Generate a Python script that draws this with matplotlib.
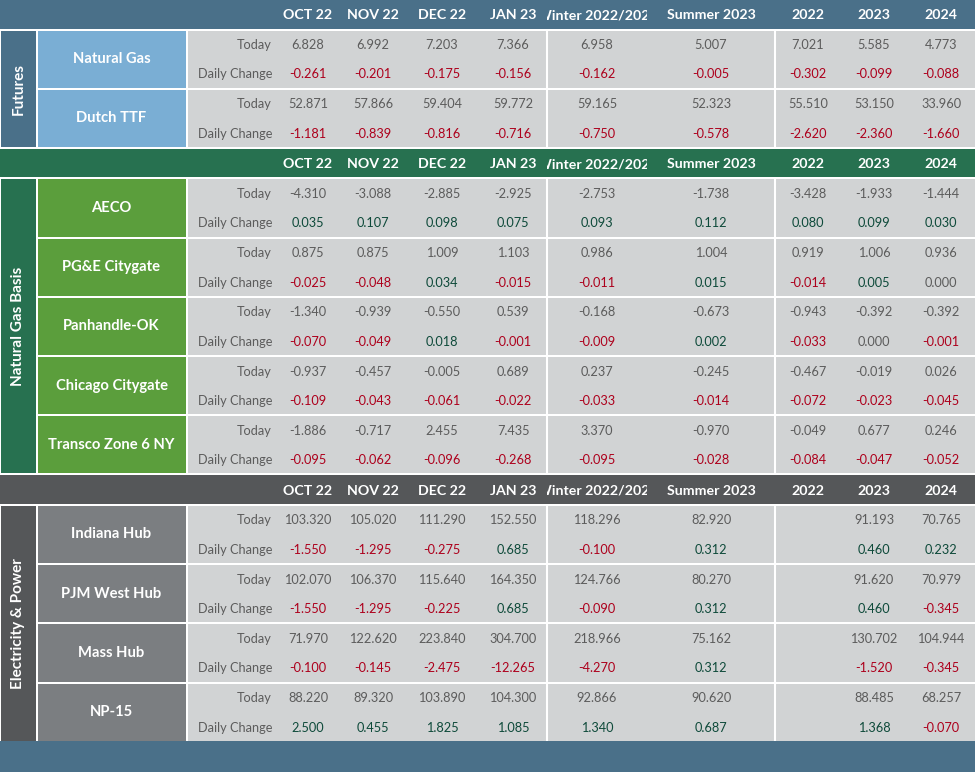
import matplotlib
matplotlib.use("Agg")
import matplotlib.pyplot as plt
from matplotlib.patches import Rectangle
from matplotlib.transforms import Bbox, TransformedBbox

plt.rcParams['font.family'] = ['Lato', 'DejaVu Sans']

# ---------------- data ----------------
columns = ["OCT 22", "NOV 22", "DEC 22", "JAN 23", "Winter 2022/2023",
           "Summer 2023", "2022", "2023", "2024"]

sections = ["Futures", "Natural Gas Basis", "Electricity & Power"]

futures_names = ["Natural Gas", "Dutch TTF"]
futures_today = [
    [6.828, 6.992, 7.203, 7.366, 6.958, 5.007, 7.021, 5.585, 4.773],
    [52.871, 57.866, 59.404, 59.772, 59.165, 52.323, 55.510, 53.150, 33.960],
]
futures_change = [
    [-0.261, -0.201, -0.175, -0.156, -0.162, -0.005, -0.302, -0.099, -0.088],
    [-1.181, -0.839, -0.816, -0.716, -0.750, -0.578, -2.620, -2.360, -1.660],
]

basis_names = ["AECO", "PG&E Citygate", "Panhandle-OK", "Chicago Citygate",
               "Transco Zone 6 NY"]
basis_today = [
    [-4.310, -3.088, -2.885, -2.925, -2.753, -1.738, -3.428, -1.933, -1.444],
    [0.875, 0.875, 1.009, 1.103, 0.986, 1.004, 0.919, 1.006, 0.936],
    [-1.340, -0.939, -0.550, 0.539, -0.168, -0.673, -0.943, -0.392, -0.392],
    [-0.937, -0.457, -0.005, 0.689, 0.237, -0.245, -0.467, -0.019, 0.026],
    [-1.886, -0.717, 2.455, 7.435, 3.370, -0.970, -0.049, 0.677, 0.246],
]
basis_change = [
    [0.035, 0.107, 0.098, 0.075, 0.093, 0.112, 0.080, 0.099, 0.030],
    [-0.025, -0.048, 0.034, -0.015, -0.011, 0.015, -0.014, 0.005, 0.000],
    [-0.070, -0.049, 0.018, -0.001, -0.009, 0.002, -0.033, 0.000, -0.001],
    [-0.109, -0.043, -0.061, -0.022, -0.033, -0.014, -0.072, -0.023, -0.045],
    [-0.095, -0.062, -0.096, -0.268, -0.095, -0.028, -0.084, -0.047, -0.052],
]

power_names = ["Indiana Hub", "PJM West Hub", "Mass Hub", "NP-15"]
power_today = [
    [103.320, 105.020, 111.290, 152.550, 118.296, 82.920, None, 91.193, 70.765],
    [102.070, 106.370, 115.640, 164.350, 124.766, 80.270, None, 91.620, 70.979],
    [71.970, 122.620, 223.840, 304.700, 218.966, 75.162, None, 130.702, 104.944],
    [88.220, 89.320, 103.890, 104.300, 92.866, 90.620, None, 88.485, 68.257],
]
power_change = [
    [-1.550, -1.295, -0.275, 0.685, -0.100, 0.312, None, 0.460, 0.232],
    [-1.550, -1.295, -0.225, 0.685, -0.090, 0.312, None, 0.460, -0.345],
    [-0.100, -0.145, -2.475, -12.265, -4.270, 0.312, None, -1.520, -0.345],
    [2.500, 0.455, 1.825, 1.085, 1.340, 0.687, None, 1.368, -0.070],
]

# ---------------- styles ----------------
header_colors = ["#4a7089", "#277150", "#555759"]
name_colors = ["#7aaed4", "#5b9e3c", "#7b7e81"]
data_bg = "#d1d3d4"
txt_gray = "#5c5c5c"
txt_red = "#ad001c"
txt_green = "#0e4a3a"
bottom_color = "#4a7089"

col_x = [308, 373, 442, 513, 597, 711, 808, 874, 941]
col_clip = {4: (547, 647)}
vlines_x = [547, 775]

W, H = 975, 772
fig = plt.figure(figsize=(W / 100, H / 100), dpi=100)
ax = fig.add_axes([0, 0, 1, 1])
ax.set_xlim(0, W)
ax.set_ylim(H, 0)
ax.axis("off")

blocks = [
    (futures_names, futures_today, futures_change),
    (basis_names, basis_today, basis_change),
    (power_names, power_today, power_change),
]

header_h = 28.5
gap = 2.0
pitch = 59.2
row_h = pitch - gap
num_fs = 9.2
hdr_fs = 10.2

def fmt(v):
    return "" if v is None else f"{v:.3f}"

def chg_color(v):
    if v is None:
        return txt_gray
    if v < 0:
        return txt_red
    if v > 0:
        return txt_green
    return txt_gray

y = 0.0
for si, (names, today, change) in enumerate(blocks):
    # header band
    ax.add_patch(Rectangle((0, y), W, header_h, color=header_colors[si], lw=0))
    for ci, label in enumerate(columns):
        t = ax.text(col_x[ci], y + header_h / 2 + 1, label, ha="center", va="center",
                    color="white", fontsize=hdr_fs, fontweight="bold")
        if ci in col_clip:
            x0, x1 = col_clip[ci]
            bb = TransformedBbox(Bbox([[x0, y], [x1, y + header_h]]), ax.transData)
            t.set_clip_box(bb)
            t.set_clip_on(True)
    y += header_h + gap
    top = y
    n = len(names)
    # section column
    ax.add_patch(Rectangle((1, top), 35, n * pitch - gap, color=header_colors[si], lw=0))
    ax.text(18.5, top + (n * pitch - gap) / 2, sections[si], rotation=90,
            ha="center", va="center", color="white", fontsize=11, fontweight="bold")
    for ri in range(n):
        ry = top + ri * pitch
        ax.add_patch(Rectangle((37.5, ry), 148.5, row_h, color=name_colors[si], lw=0))
        ax.add_patch(Rectangle((187.5, ry), W - 187.5, row_h, color=data_bg, lw=0))
        ax.text(111.5, ry + row_h / 2, names[ri], ha="center", va="center",
                color="white", fontsize=10.6, fontweight="bold")
        ax.text(272, ry + 14.5, "Today", ha="right", va="center",
                color=txt_gray, fontsize=num_fs)
        ax.text(272, ry + 44, "Daily Change", ha="right", va="center",
                color=txt_gray, fontsize=num_fs)
        for ci in range(len(columns)):
            ax.text(col_x[ci], ry + 14.5, fmt(today[ri][ci]), ha="center",
                    va="center", color=txt_gray, fontsize=num_fs)
            cv = change[ri][ci]
            ax.text(col_x[ci], ry + 44, fmt(cv), ha="center", va="center",
                    color=chg_color(cv), fontsize=num_fs)
    bottom = top + n * pitch - gap
    for vx in vlines_x:
        ax.plot([vx, vx], [top, bottom], color="white", lw=1.5, solid_capstyle="butt")
    y = bottom + gap

ax.add_patch(Rectangle((0, y - gap), W, H - y + gap, color=bottom_color, lw=0))

fig.savefig("out.png", dpi=100)
